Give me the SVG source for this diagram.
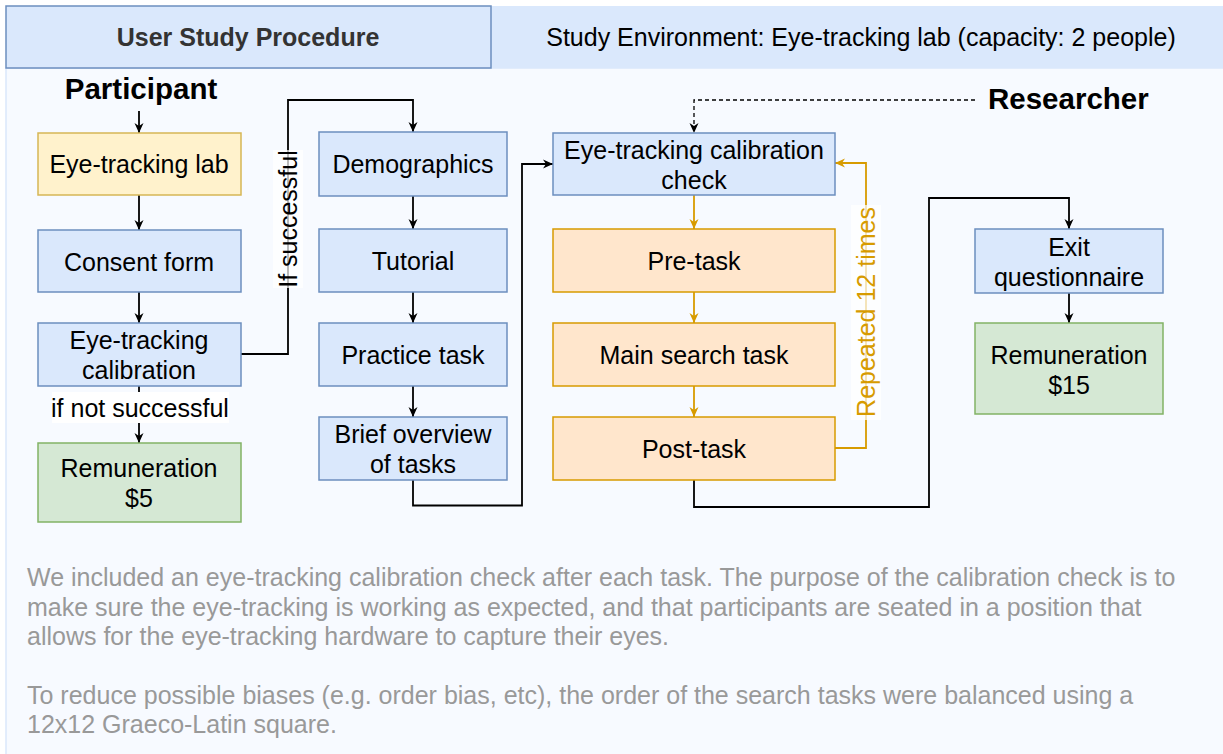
<svg xmlns="http://www.w3.org/2000/svg" width="1223" height="754" viewBox="0 0 1223 754">
  <style>
    text { font-family: "Liberation Sans", Arial, sans-serif; font-size: 25px; fill: #000; }
    .mid { text-anchor: middle; }
    .blue { fill: #dae8fc; stroke: #6c8ebf; stroke-width: 1.5; }
    .yellow { fill: #fff2cc; stroke: #d6b656; stroke-width: 1.5; }
    .orange { fill: #ffe6cc; stroke: #d79b00; stroke-width: 1.5; }
    .green { fill: #d5e8d4; stroke: #82b366; stroke-width: 1.5; }
    .edge { fill: none; stroke: #000; stroke-width: 1.8; }
    .edge-o { fill: none; stroke: #d79b00; stroke-width: 1.8; }
    .dash { fill: none; stroke: #000; stroke-width: 1.3; stroke-dasharray: 4 3; }
    .title { font-weight: bold; font-size: 29.5px; }
    .note { fill: #999999; }
    .lbl-bg { fill: #ffffff; }
  </style>
  <defs>
    <marker id="arr" viewBox="0 0 12 10" refX="11" refY="5" markerWidth="12" markerHeight="10" markerUnits="userSpaceOnUse" orient="auto">
      <path d="M1,0.5 L11,5 L1,9.5 L4,5 Z" fill="#000"/>
    </marker>
    <marker id="arr-o" viewBox="0 0 12 10" refX="11" refY="5" markerWidth="12" markerHeight="10" markerUnits="userSpaceOnUse" orient="auto">
      <path d="M1,0.5 L11,5 L1,9.5 L4,5 Z" fill="#d79b00"/>
    </marker>
  </defs>

  <!-- canvas -->
  <rect x="0" y="0" width="1223" height="754" fill="#ffffff"/>
  <rect x="6" y="68" width="1230" height="700" fill="#f7faff" stroke="#dae8fc" stroke-width="1.5"/>

  <!-- header band -->
  <g id="header-env">
    <rect x="491" y="6" width="740" height="62" fill="#dae8fc"/>
    <text class="mid" x="861" y="46" fill="#111">Study Environment: Eye-tracking lab (capacity: 2 people)</text>
  </g>
  <g id="header-title">
    <rect x="6" y="6" width="485" height="62" fill="#dae8fc" stroke="#6c8ebf" stroke-width="1.5"/>
    <text class="mid" x="248" y="46" font-weight="bold" style="fill:#333333">User Study Procedure</text>
  </g>

  <!-- role labels -->
  <g id="label-participant"><text class="title mid" x="141" y="99">Participant</text></g>
  <g id="label-researcher"><text class="title" x="988" y="109">Researcher</text></g>

  <!-- connectors -->
  <g id="connectors">
    <path class="edge" d="M139,111 V133" marker-end="url(#arr)"/>
    <path class="edge" d="M139,195 V230" marker-end="url(#arr)"/>
    <path class="edge" d="M139,292 V323" marker-end="url(#arr)"/>
    <path class="edge" d="M139,386 V443" marker-end="url(#arr)"/>
    <path class="edge" d="M241,354 H288 V100 H413 V132" marker-end="url(#arr)"/>
    <path class="edge" d="M413,196 V229" marker-end="url(#arr)"/>
    <path class="edge" d="M413,292 V323" marker-end="url(#arr)"/>
    <path class="edge" d="M413,386 V417" marker-end="url(#arr)"/>
    <path class="edge" d="M413,480 V505.5 H522 V164 H553" marker-end="url(#arr)"/>
    <path class="dash" d="M975,100 H694 V133" marker-end="url(#arr)"/>
    <path class="edge-o" d="M694,195 V229" marker-end="url(#arr-o)"/>
    <path class="edge-o" d="M694,292 V323" marker-end="url(#arr-o)"/>
    <path class="edge-o" d="M694,386 V417" marker-end="url(#arr-o)"/>
    <path class="edge-o" d="M835,448 H866 V163 H835" marker-end="url(#arr-o)"/>
    <path class="edge" d="M694,480 V507 H929 V198 H1069 V229" marker-end="url(#arr)"/>
    <path class="edge" d="M1069,293 V323" marker-end="url(#arr)"/>

    <!-- edge labels -->
    <rect class="lbl-bg" x="52" y="392" width="177" height="31"/>
    <text class="mid" x="140" y="417">if not successful</text>
    <rect class="lbl-bg" x="273" y="150" width="30" height="138" opacity="0.7"/>
    <text class="mid" transform="translate(297,219) rotate(-90)">If successful</text>
    <rect class="lbl-bg" x="851" y="205" width="30" height="215" opacity="0.7"/>
    <text class="mid" transform="translate(875,312) rotate(-90)" style="fill:#d79b00">Repeated 12 times</text>
  </g>

  <!-- participant column -->
  <g id="node-lab">
    <rect class="yellow" x="38" y="133" width="203" height="62"/>
    <text class="mid" x="139" y="173">Eye-tracking lab</text>
  </g>
  <g id="node-consent">
    <rect class="blue" x="38" y="230" width="203" height="62"/>
    <text class="mid" x="139" y="270.5">Consent form</text>
  </g>
  <g id="node-calibration">
    <rect class="blue" x="38" y="323" width="203" height="63"/>
    <text class="mid" x="139" y="349">Eye-tracking</text>
    <text class="mid" x="139" y="379">calibration</text>
  </g>
  <g id="node-remuneration-5">
    <rect class="green" x="38" y="443" width="203" height="79"/>
    <text class="mid" x="139" y="477">Remuneration</text>
    <text class="mid" x="139" y="507">$5</text>
  </g>

  <!-- onboarding column -->
  <g id="node-demographics">
    <rect class="blue" x="319" y="132" width="188" height="64"/>
    <text class="mid" x="413" y="173">Demographics</text>
  </g>
  <g id="node-tutorial">
    <rect class="blue" x="319" y="229" width="188" height="63"/>
    <text class="mid" x="413" y="270">Tutorial</text>
  </g>
  <g id="node-practice">
    <rect class="blue" x="319" y="323" width="188" height="63"/>
    <text class="mid" x="413" y="364">Practice task</text>
  </g>
  <g id="node-overview">
    <rect class="blue" x="319" y="417" width="188" height="63"/>
    <text class="mid" x="413" y="443">Brief overview</text>
    <text class="mid" x="413" y="473">of tasks</text>
  </g>

  <!-- task loop column -->
  <g id="node-calibration-check">
    <rect class="blue" x="553" y="133" width="282" height="62"/>
    <text class="mid" x="694" y="159">Eye-tracking calibration</text>
    <text class="mid" x="694" y="189">check</text>
  </g>
  <g id="node-pretask">
    <rect class="orange" x="553" y="229" width="282" height="63"/>
    <text class="mid" x="694" y="270">Pre-task</text>
  </g>
  <g id="node-main-task">
    <rect class="orange" x="553" y="323" width="282" height="63"/>
    <text class="mid" x="694" y="364">Main search task</text>
  </g>
  <g id="node-posttask">
    <rect class="orange" x="553" y="417" width="282" height="63"/>
    <text class="mid" x="694" y="458">Post-task</text>
  </g>

  <!-- wrap-up column -->
  <g id="node-exit">
    <rect class="blue" x="975" y="229" width="188" height="64"/>
    <text class="mid" x="1069" y="256">Exit</text>
    <text class="mid" x="1069" y="286">questionnaire</text>
  </g>
  <g id="node-remuneration-15">
    <rect class="green" x="975" y="323" width="188" height="91"/>
    <text class="mid" x="1069" y="364">Remuneration</text>
    <text class="mid" x="1069" y="394">$15</text>
  </g>

  <!-- notes -->
  <g id="notes">
    <text class="note" x="27" y="586">We included an eye-tracking calibration check after each task. The purpose of the calibration check is to</text>
    <text class="note" x="27" y="615.5">make sure the eye-tracking is working as expected, and that participants are seated in a position that</text>
    <text class="note" x="27" y="645">allows for the eye-tracking hardware to capture their eyes.</text>
    <text class="note" x="27" y="704">To reduce possible biases (e.g. order bias, etc), the order of the search tasks were balanced using a</text>
    <text class="note" x="27" y="733">12x12 Graeco-Latin square.</text>
  </g>
</svg>
